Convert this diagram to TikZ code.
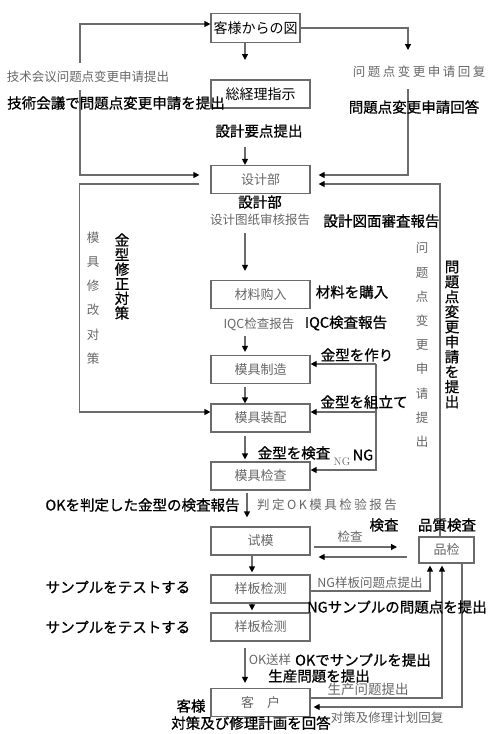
\documentclass[tikz,border=0pt]{standalone}
\usepackage{fontspec}
\usepackage{xcolor}
\usepackage{tikz}
\usetikzlibrary{arrows.meta}
\newfontfamily\jpfont{Noto Sans CJK JP}
\newfontfamily\jpboldfont{Noto Sans CJK JP}[FakeBold=0.8]
\newfontfamily\scfont{Noto Sans CJK SC}
\definecolor{linegray}{gray}{0.42}
\definecolor{textgray}{gray}{0.40}

\begin{document}
\begin{tikzpicture}[x=1pt,y=-1pt,
  box/.style={draw=linegray,line width=1.2pt,minimum width=99pt,minimum height=28pt,
    inner sep=0pt,text=textgray,font=\scfont\fontsize{13}{13}\selectfont},
  topbox/.style={box,text=black,font=\jpfont\fontsize{14}{14}\selectfont},
  jp/.style={inner sep=0pt,font=\jpboldfont\fontsize{14.5}{14.5}\selectfont},
  cn/.style={inner sep=0pt,text=textgray,font=\scfont\fontsize{12.5}{12.5}\selectfont},
  wide/.style={font=\scfont\addfontfeature{LetterSpace=20}\fontsize{12.5}{12.5}\selectfont},
  link/.style={draw=linegray,line width=1.2pt},
  flow/.style={link,-{Triangle[length=6pt,width=6pt,color=black]}}]
  \useasboundingbox (0,0) rectangle (491,734);
  % boxes
  \node[topbox,minimum width=89pt,minimum height=29pt] (drawing) at (255.5,28) {客様からの図};
  \node[topbox] (order) at (260.5,94) {総経理指示};
  \foreach \name/\ypos/\label in {design/179.5/设计部,buy/294.5/材料购入,make/369.5/模具制造,
      assy/418/模具装配,check/476/模具检查,trial/541/试模,test1/589/样板检测,
      test2/627/样板检测,client/702.5/客　户}
    \node[box] (\name) at (260.5,\ypos) {\label};
  \node[box,minimum width=55pt,minimum height=26pt] (qc) at (446.5,550) {品检};
  % main column
  \coordinate (a1) at (245,60);
  \coordinate (a2) at (245,147);
  \coordinate (a3) at (245,233);
  \coordinate (a4) at (245,336);
  \coordinate (a5) at (247,492);
  \coordinate (a6) at (252,555);
  \draw[flow] (drawing.south -| a1) -- (a1);
  \draw[flow] (a2) -- (design.north -| a2);
  \draw[flow,shorten >=9pt] (a3) -- (buy.north -| a3);
  \draw[flow,shorten >=3pt] (a4) -- (make.north -| a4);
  \draw[flow,shorten <=3pt] (make.south -| a4) -- (assy.north -| a4);
  \draw[flow,shorten <=3pt,shorten >=2pt] (assy.south -| a4) -- (check.north -| a4);
  \draw[flow,shorten <=2pt,shorten >=9pt] (check.south -| a5) -- (trial.north -| a5);
  \draw[flow,shorten >=2pt] (trial.south -| a6) -- (test1.north -| a6);
  \draw[flow,shorten >=2pt] (test1.south -| a6) -- (test2.north -| a6);
  \draw[flow,shorten <=6pt,shorten >=5pt] (test2.south -| a4) -- (client.north -| a4);
  % top loops
  \coordinate (r1) at (408,50);
  \coordinate (r2) at (408,89);
  \coordinate (l1) at (80,63);
  \coordinate (l2) at (80,90);
  \draw[flow] (drawing.east) -| (r1);
  \draw[flow,shorten >=8pt] (r2) |- ([yshift=4.5pt]design.east);
  \draw[flow] (l1) |- ([yshift=4pt]drawing.west);
  \draw[flow,shorten >=11pt] (l2) |- ([yshift=4.5pt]design.west);
  \draw[flow,shorten <=11pt] ([yshift=-4.5pt]design.west) -- ++(-131,0) |- ([yshift=6pt]assy.west);
  % NG loop
  \coordinate (ng) at (376,364);
  \draw[flow] (ng) |- ([yshift=6pt]check.east);
  \draw[flow] (ng) -- ([yshift=5.5pt]make.east);
  \draw[flow] ([yshift=6pt]assy.east -| ng) -- ([yshift=6pt]assy.east);
  % quality check
  \coordinate (qin) at (397,547);
  \coordinate (qout) at (407,557);
  \draw[flow,shorten <=3pt] (trial.east |- qin) -- (qin);
  \draw[flow,shorten >=8pt] (qout) -- (trial.east |- qout);
  \draw[flow,shorten >=8pt] ([xshift=-6.5pt]qc.north) |- ([yshift=-4.5pt]design.east);
  \draw[flow,shorten >=2pt] ([yshift=-2pt]test1.east) -| ([xshift=-16.5pt]qc.south);
  \draw[flow,shorten >=2pt] ([yshift=4.5pt]client.east) -| ([xshift=-4.5pt]qc.south);
  \draw[flow,shorten >=3pt] ([xshift=15.5pt]qc.south) |- ([yshift=-4.5pt]client.east);
  % gray labels
  \node[cn] (techcn) at (88,77) {技术会议问题点变更申请提出};
  \node[cn,wide] (replycn) at (419,72) {问题点变更申请回复};
  \node[cn] (reviewcn) at (260,220) {设计图纸审核报告};
  \node[cn,align=center,font=\scfont\fontsize{12.5}{24.2}\selectfont] (fixcn) at (93,298)
    {模\\具\\修\\改\\对\\策};
  \node[cn,align=center,font=\scfont\fontsize{12.5}{24.2}\selectfont] (changecn) at (422,345)
    {问\\题\\点\\变\\更\\申\\请\\提\\出};
  \node[cn] (iqccn) at (259,324) {IQC检查报告};
  \node[cn,font=\rmfamily\fontsize{11}{11}\selectfont] (ngcn) at (342,462) {NG};
  \node[cn,wide] (okcn) at (327,505) {判定OK模具检验报告};
  \node[cn] (inspcn) at (350,537) {检查};
  \node[cn] (ngsamplecn) at (370,583) {NG样板问题点提出};
  \node[cn] (sendcn) at (270,660) {OK送样};
  \node[cn,font=\scfont\fontsize{13.5}{13.5}\selectfont] (prodcn) at (368,689) {生产问题提出};
  \node[cn] (plancn) at (387,718) {对策及修理计划回复};
  % black labels
  \node[jp] (techjp) at (116,103) {技術会議で問題点変更申請を提出};
  \node[jp] (replyjp) at (414,107) {問題点変更申請回答};
  \node[jp] (pointjp) at (259,131) {設計要点提出};
  \node[jp] (designjp) at (260,202) {設計部};
  \node[jp] (reviewjp) at (381.5,221) {設計図面審査報告};
  \node[jp,align=center,font=\jpboldfont\fontsize{14.5}{14.6}\selectfont] (fixjp) at (122,276.5)
    {金\\型\\修\\正\\対\\策};
  \node[jp,align=center,font=\jpboldfont\fontsize{14.5}{15}\selectfont] (changejp) at (452,334.5)
    {問\\題\\点\\変\\更\\申\\請\\を\\提\\出};
  \node[jp] (buyjp) at (352,292) {材料を購入};
  \node[jp] (iqcjp) at (346,323) {IQC検査報告};
  \node[jp] (makejp) at (357,355) {金型を作り};
  \node[jp] (assyjp) at (364,402) {金型を組立て};
  \node[jp] (checkjp) at (294,453) {金型を検査};
  \node[jp] (ngjp) at (363,455) {NG};
  \node[jp] (okjp) at (142.5,505) {OKを判定した金型の検査報告};
  \node[jp] (inspjp) at (384,525) {検査};
  \node[jp] (qcjp) at (447,525) {品質検査};
  \node[jp] (test1jp) at (118,587) {サンプルをテストする};
  \node[jp] (ngsamplejp) at (397,607) {NGサンプルの問題点を提出};
  \node[jp] (test2jp) at (118,627) {サンプルをテストする};
  \node[jp] (sendjp) at (363,660) {OKでサンプルを提出};
  \node[jp] (prodjp) at (319,676) {生産問題を提出};
  \node[jp] (clientjp) at (191,706) {客様};
  \node[jp] (planjp) at (251,723) {対策及び修理計画を回答};
\end{tikzpicture}
\end{document}
